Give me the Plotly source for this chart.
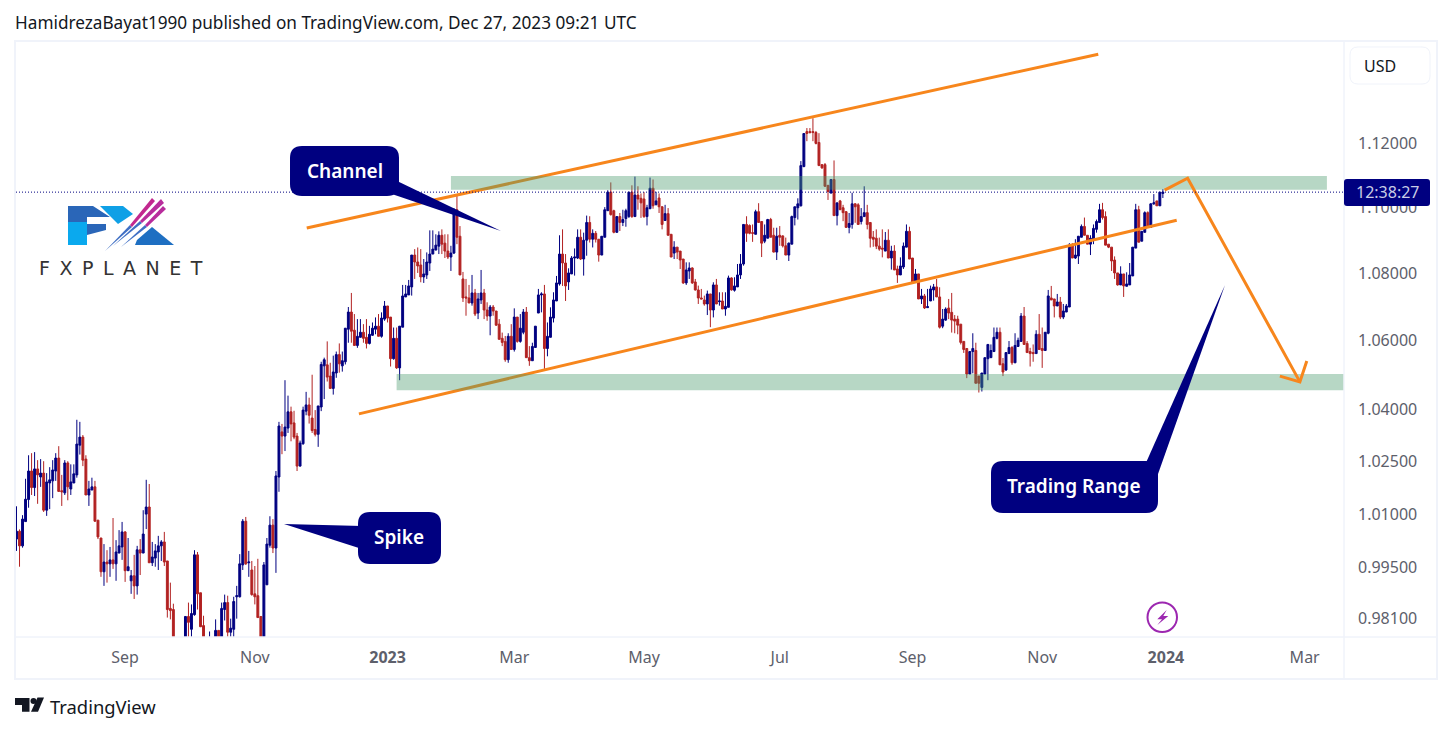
import pandas as pd
import plotly.graph_objects as go


opens = [
    1.0030, 1.0052, 1.0011, 1.0079, 1.0141, 1.0222, 1.0175, 1.0228, 1.0205, 1.0216,
    1.0111, 1.0188, 1.0194, 1.0222, 1.0259, 1.0166, 1.0160, 1.0245, 1.0171, 1.0188,
    1.0211, 1.0296, 1.0319, 1.0256, 1.0154, 1.0168, 1.0177, 1.0083, 1.0033, 0.9939,
    0.9966, 0.9961, 0.9972, 0.9961, 0.9991, 1.0008, 1.0050, 0.9942, 0.9914, 0.9928,
    0.9900, 1.0000, 0.9991, 1.0100, 1.0120, 0.9964, 0.9977, 0.9994, 1.0011, 1.0022,
    0.9969, 0.9838, 0.9835, 0.9745, 0.9700, 0.9730, 0.9720, 0.9816, 0.9781, 0.9821,
    0.9986, 0.9881, 0.9791, 0.9740, 0.9700, 0.9750, 0.9720, 0.9778, 0.9740, 0.9835,
    0.9854, 0.9773, 0.9781, 0.9870, 0.9870, 0.9958, 1.0080, 0.9964, 0.9944, 0.9878,
    0.9873, 0.9816, 0.9700, 0.9903, 1.0013, 1.0069, 1.0005, 1.0205, 1.0334, 1.0322,
    1.0345, 1.0392, 1.0360, 1.0322, 1.0236, 1.0300, 1.0394, 1.0412, 1.0374, 1.0341,
    1.0327, 1.0406, 1.0526, 1.0529, 1.0496, 1.0460, 1.0505, 1.0559, 1.0526, 1.0538,
    1.0634, 1.0685, 1.0631, 1.0586, 1.0610, 1.0625, 1.0610, 1.0592, 1.0616, 1.0634,
    1.0643, 1.0613, 1.0664, 1.0703, 1.0670, 1.0547, 1.0607, 1.0520, 1.0640, 1.0730,
    1.0736, 1.0760, 1.0856, 1.0835, 1.0826, 1.0790, 1.0796, 1.0832, 1.0859, 1.0871,
    1.0883, 1.0916, 1.0892, 1.0868, 1.0850, 1.0862, 1.0994, 1.0913, 1.0784, 1.0730,
    1.0727, 1.0712, 1.0742, 1.0682, 1.0721, 1.0742, 1.0691, 1.0673, 1.0700, 1.0688,
    1.0649, 1.0607, 1.0598, 1.0544, 1.0613, 1.0574, 1.0670, 1.0598, 1.0625, 1.0685,
    1.0550, 1.0541, 1.0580, 1.0682, 1.0736, 1.0739, 1.0577, 1.0610, 1.0667, 1.0718,
    1.0769, 1.0859, 1.0832, 1.0775, 1.0799, 1.0847, 1.0847, 1.0910, 1.0844, 1.0901,
    1.0955, 1.0904, 1.0922, 1.0904, 1.0856, 1.0910, 1.0991, 1.1048, 1.0991, 1.0925,
    1.0973, 1.0955, 1.0967, 1.0973, 1.1048, 1.0973, 1.1039, 1.1029, 1.1027, 1.0973,
    1.0997, 1.1060, 1.1009, 1.1030, 1.1003, 1.0961, 1.0982, 1.0919, 1.0862, 1.0880,
    1.0868, 1.0844, 1.0772, 1.0808, 1.0817, 1.0775, 1.0751, 1.0727, 1.0721, 1.0709,
    1.0739, 1.0691, 1.0766, 1.0716, 1.0718, 1.0694, 1.0699, 1.0787, 1.0750, 1.0760,
    1.0796, 1.0829, 1.0949, 1.0946, 1.0924, 1.0919, 1.0988, 1.0958, 1.0898, 1.0907,
    1.0964, 1.0916, 1.0865, 1.0916, 1.0914, 1.0884, 1.0856, 1.0889, 1.0970, 1.1000,
    1.1006, 1.1127, 1.1236, 1.1236, 1.1236, 1.1233, 1.1202, 1.1133, 1.1133, 1.1069,
    1.1045, 1.1087, 1.0976, 1.1021, 1.1000, 1.0988, 1.0940, 1.0949, 1.1012, 1.1009,
    1.0958, 1.0973, 1.0985, 1.0955, 1.0910, 1.0907, 1.0883, 1.0877, 1.0868, 1.0901,
    1.0847, 1.0868, 1.0814, 1.0796, 1.0820, 1.0880, 1.0928, 1.0847, 1.0778, 1.0799,
    1.0724, 1.0733, 1.0698, 1.0718, 1.0751, 1.0760, 1.0730, 1.0643, 1.0661, 1.0697,
    1.0684, 1.0664, 1.0664, 1.0649, 1.0598, 1.0577, 1.0502, 1.0568, 1.0571, 1.0496,
    1.0463, 1.0502, 1.0547, 1.0550, 1.0568, 1.0607, 1.0625, 1.0532, 1.0514, 1.0562,
    1.0580, 1.0535, 1.0583, 1.0598, 1.0673, 1.0592, 1.0568, 1.0565, 1.0562, 1.0619,
    1.0577, 1.0571, 1.0622, 1.0727, 1.0724, 1.0703, 1.0715, 1.0670, 1.0685, 1.0700,
    1.0886, 1.0847, 1.0853, 1.0910, 1.0943, 1.0916, 1.0889, 1.0904, 1.0934, 1.0955,
    1.0994, 1.0973, 1.0889, 1.0880, 1.0841, 1.0802, 1.0766, 1.0799, 1.0762, 1.0766,
    1.0793, 1.0877, 1.0994, 1.0898, 1.0925, 1.0985, 1.0940, 1.1012, 1.1021, 1.1006, 1.1044,
]
highs = [
    1.0122, 1.0057, 1.0097, 1.0200, 1.0267, 1.0273, 1.0276, 1.0253, 1.0256, 1.0250,
    1.0216, 1.0233, 1.0253, 1.0273, 1.0293, 1.0211, 1.0253, 1.0250, 1.0241, 1.0241,
    1.0369, 1.0363, 1.0325, 1.0267, 1.0194, 1.0203, 1.0194, 1.0083, 1.0033, 1.0016,
    0.9999, 1.0008, 1.0089, 1.0027, 1.0055, 1.0078, 1.0052, 1.0033, 0.9944, 0.9986,
    1.0011, 1.0030, 1.0111, 1.0197, 1.0185, 1.0022, 1.0016, 1.0039, 1.0027, 1.0050,
    0.9969, 0.9909, 0.9851, 0.9755, 0.9750, 0.9755, 0.9816, 0.9854, 0.9849, 0.9999,
    0.9994, 0.9881, 0.9818, 0.9755, 0.9775, 0.9758, 0.9808, 0.9778, 0.9854, 0.9876,
    0.9873, 0.9810, 0.9870, 0.9900, 0.9988, 1.0086, 1.0092, 0.9997, 0.9969, 0.9955,
    0.9975, 0.9816, 0.9966, 1.0033, 1.0094, 1.0086, 1.0222, 1.0363, 1.0357, 1.0484,
    1.0439, 1.0407, 1.0395, 1.0331, 1.0309, 1.0407, 1.0450, 1.0433, 1.0500, 1.0397,
    1.0409, 1.0538, 1.0550, 1.0598, 1.0535, 1.0556, 1.0568, 1.0592, 1.0568, 1.0637,
    1.0700, 1.0742, 1.0679, 1.0664, 1.0664, 1.0649, 1.0664, 1.0644, 1.0654, 1.0669,
    1.0679, 1.0684, 1.0718, 1.0703, 1.0670, 1.0639, 1.0639, 1.0643, 1.0766, 1.0766,
    1.0781, 1.0856, 1.0874, 1.0879, 1.0874, 1.0844, 1.0864, 1.0931, 1.0931, 1.0919,
    1.0928, 1.0934, 1.0919, 1.0919, 1.0884, 1.0999, 1.1036, 1.0944, 1.0805, 1.0784,
    1.0766, 1.0796, 1.0754, 1.0742, 1.0811, 1.0754, 1.0714, 1.0706, 1.0706, 1.0688,
    1.0664, 1.0624, 1.0614, 1.0622, 1.0649, 1.0696, 1.0670, 1.0679, 1.0694, 1.0700,
    1.0584, 1.0594, 1.0643, 1.0754, 1.0744, 1.0766, 1.0654, 1.0699, 1.0744, 1.0793,
    1.0916, 1.0934, 1.0859, 1.0816, 1.0853, 1.0876, 1.0934, 1.0934, 1.0924, 1.0976,
    1.0974, 1.0934, 1.0929, 1.0904, 1.0913, 1.1002, 1.1054, 1.1078, 1.0994, 1.0974,
    1.0984, 1.0994, 1.0997, 1.1048, 1.1069, 1.1096, 1.1066, 1.1044, 1.1048, 1.1009,
    1.1093, 1.1087, 1.1049, 1.1044, 1.1004, 1.1009, 1.0999, 1.0919, 1.0898, 1.0880,
    1.0868, 1.0844, 1.0834, 1.0834, 1.0819, 1.0784, 1.0764, 1.0754, 1.0734, 1.0749,
    1.0739, 1.0774, 1.0784, 1.0744, 1.0744, 1.0744, 1.0794, 1.0789, 1.0789, 1.0829,
    1.0859, 1.0949, 1.0974, 1.0949, 1.0949, 1.0994, 1.1014, 1.0959, 1.0949, 1.0966,
    1.0969, 1.0939, 1.0939, 1.0944, 1.0916, 1.0909, 1.0894, 1.0976, 1.1003, 1.1029,
    1.1144, 1.1230, 1.1247, 1.1247, 1.1278, 1.1238, 1.1231, 1.1133, 1.1138, 1.1069,
    1.1087, 1.1146, 1.1015, 1.1024, 1.1009, 1.0989, 1.0984, 1.1046, 1.1014, 1.1014,
    1.0999, 1.1066, 1.1009, 1.0955, 1.0929, 1.0934, 1.0909, 1.0934, 1.0926, 1.0934,
    1.0884, 1.0886, 1.0824, 1.0849, 1.0894, 1.0949, 1.0942, 1.0847, 1.0814, 1.0799,
    1.0754, 1.0739, 1.0754, 1.0764, 1.0769, 1.0784, 1.0759, 1.0694, 1.0699, 1.0724,
    1.0742, 1.0676, 1.0674, 1.0649, 1.0598, 1.0577, 1.0568, 1.0622, 1.0594, 1.0496,
    1.0505, 1.0550, 1.0589, 1.0589, 1.0639, 1.0639, 1.0639, 1.0549, 1.0565, 1.0599,
    1.0584, 1.0622, 1.0609, 1.0682, 1.0700, 1.0599, 1.0579, 1.0589, 1.0631, 1.0679,
    1.0639, 1.0625, 1.0751, 1.0763, 1.0724, 1.0739, 1.0730, 1.0709, 1.0709, 1.0892,
    1.0892, 1.0904, 1.0914, 1.0949, 1.0970, 1.0916, 1.0916, 1.0949, 1.0964, 1.1012,
    1.1015, 1.0989, 1.0889, 1.0880, 1.0852, 1.0802, 1.0822, 1.0799, 1.0804, 1.0832,
    1.0880, 1.1012, 1.1006, 1.0928, 1.0989, 1.0989, 1.1014, 1.1042, 1.1021, 1.1048, 1.1057,
]
lows = [
    0.9997, 0.9953, 1.0006, 1.0079, 1.0118, 1.0154, 1.0151, 1.0129, 1.0177, 1.0106,
    1.0095, 1.0114, 1.0145, 1.0194, 1.0164, 1.0123, 1.0154, 1.0139, 1.0154, 1.0188,
    1.0203, 1.0269, 1.0236, 1.0154, 1.0123, 1.0168, 1.0079, 1.0030, 0.9925, 0.9900,
    0.9909, 0.9925, 0.9947, 0.9914, 0.9991, 0.9972, 0.9911, 0.9942, 0.9878, 0.9864,
    0.9876, 0.9930, 0.9991, 1.0058, 0.9964, 0.9955, 0.9953, 0.9944, 0.9969, 0.9955,
    0.9813, 0.9808, 0.9730, 0.9670, 0.9660, 0.9670, 0.9700, 0.9740, 0.9750, 0.9818,
    0.9835, 0.9787, 0.9720, 0.9660, 0.9680, 0.9680, 0.9700, 0.9700, 0.9720, 0.9805,
    0.9750, 0.9750, 0.9750, 0.9810, 0.9868, 0.9944, 0.9958, 0.9925, 0.9873, 0.9849,
    0.9813, 0.9680, 0.9680, 0.9903, 1.0006, 0.9991, 0.9936, 1.0163, 1.0270, 1.0279,
    1.0331, 1.0307, 1.0313, 1.0222, 1.0235, 1.0297, 1.0382, 1.0358, 1.0331, 1.0321,
    1.0291, 1.0394, 1.0429, 1.0480, 1.0460, 1.0442, 1.0491, 1.0506, 1.0509, 1.0530,
    1.0594, 1.0594, 1.0586, 1.0579, 1.0610, 1.0594, 1.0577, 1.0589, 1.0614, 1.0619,
    1.0613, 1.0609, 1.0659, 1.0654, 1.0524, 1.0544, 1.0517, 1.0484, 1.0640, 1.0730,
    1.0736, 1.0734, 1.0784, 1.0802, 1.0774, 1.0772, 1.0784, 1.0808, 1.0859, 1.0871,
    1.0859, 1.0859, 1.0847, 1.0844, 1.0808, 1.0859, 1.0889, 1.0796, 1.0715, 1.0674,
    1.0712, 1.0704, 1.0673, 1.0664, 1.0709, 1.0664, 1.0659, 1.0616, 1.0674, 1.0644,
    1.0604, 1.0584, 1.0538, 1.0535, 1.0574, 1.0568, 1.0594, 1.0594, 1.0619, 1.0550,
    1.0526, 1.0541, 1.0580, 1.0682, 1.0684, 1.0517, 1.0554, 1.0610, 1.0654, 1.0718,
    1.0764, 1.0763, 1.0718, 1.0751, 1.0799, 1.0794, 1.0844, 1.0841, 1.0794, 1.0854,
    1.0894, 1.0879, 1.0894, 1.0836, 1.0856, 1.0910, 1.0991, 1.0976, 1.0922, 1.0924,
    1.0929, 1.0944, 1.0942, 1.0969, 1.0969, 1.0973, 1.0994, 1.0969, 1.0969, 1.0946,
    1.0997, 1.0997, 1.1009, 1.0984, 1.0934, 1.0961, 1.0916, 1.0850, 1.0844, 1.0844,
    1.0814, 1.0769, 1.0766, 1.0784, 1.0769, 1.0749, 1.0709, 1.0724, 1.0704, 1.0676,
    1.0640, 1.0669, 1.0709, 1.0704, 1.0694, 1.0674, 1.0699, 1.0749, 1.0746, 1.0760,
    1.0784, 1.0824, 1.0896, 1.0919, 1.0896, 1.0919, 1.0954, 1.0850, 1.0892, 1.0907,
    1.0910, 1.0864, 1.0841, 1.0884, 1.0879, 1.0856, 1.0838, 1.0889, 1.0946, 1.0964,
    1.1004, 1.1125, 1.1206, 1.1230, 1.1206, 1.1196, 1.1130, 1.1120, 1.1065, 1.1024,
    1.1045, 1.0976, 1.0946, 1.0994, 1.0959, 1.0940, 1.0922, 1.0936, 1.0954, 1.0949,
    1.0949, 1.0973, 1.0934, 1.0879, 1.0881, 1.0874, 1.0869, 1.0849, 1.0868, 1.0847,
    1.0812, 1.0811, 1.0772, 1.0796, 1.0814, 1.0880, 1.0844, 1.0775, 1.0774, 1.0724,
    1.0709, 1.0694, 1.0698, 1.0718, 1.0719, 1.0730, 1.0636, 1.0637, 1.0659, 1.0664,
    1.0624, 1.0622, 1.0619, 1.0589, 1.0564, 1.0490, 1.0502, 1.0504, 1.0475, 1.0448,
    1.0451, 1.0502, 1.0484, 1.0550, 1.0568, 1.0604, 1.0529, 1.0496, 1.0511, 1.0562,
    1.0529, 1.0534, 1.0583, 1.0598, 1.0589, 1.0565, 1.0524, 1.0538, 1.0562, 1.0574,
    1.0520, 1.0571, 1.0619, 1.0721, 1.0669, 1.0703, 1.0664, 1.0664, 1.0685, 1.0700,
    1.0847, 1.0844, 1.0829, 1.0910, 1.0916, 1.0889, 1.0856, 1.0889, 1.0924, 1.0955,
    1.0964, 1.0886, 1.0877, 1.0808, 1.0784, 1.0764, 1.0766, 1.0730, 1.0762, 1.0766,
    1.0793, 1.0877, 1.0895, 1.0898, 1.0925, 1.0943, 1.0940, 1.1009, 1.1006, 1.1006, 1.1030,
]
closes = [
    1.0052, 1.0011, 1.0086, 1.0142, 1.0222, 1.0175, 1.0228, 1.0211, 1.0216, 1.0111,
    1.0191, 1.0197, 1.0225, 1.0259, 1.0164, 1.0163, 1.0245, 1.0177, 1.0191, 1.0214,
    1.0299, 1.0319, 1.0253, 1.0154, 1.0171, 1.0177, 1.0080, 1.0036, 0.9939, 0.9966,
    0.9961, 0.9972, 0.9961, 0.9994, 1.0011, 1.0050, 0.9942, 0.9953, 0.9928, 0.9900,
    1.0000, 0.9991, 1.0044, 1.0120, 0.9964, 0.9980, 0.9997, 1.0011, 1.0022, 0.9966,
    0.9835, 0.9832, 0.9745, 0.9700, 0.9730, 0.9690, 0.9816, 0.9800, 0.9824, 0.9986,
    0.9878, 0.9788, 0.9740, 0.9700, 0.9750, 0.9710, 0.9778, 0.9720, 0.9838, 0.9854,
    0.9773, 0.9784, 0.9857, 0.9873, 0.9961, 1.0080, 0.9961, 0.9966, 0.9876, 0.9870,
    0.9813, 0.9700, 0.9958, 1.0016, 1.0069, 1.0005, 1.0208, 1.0351, 1.0322, 1.0348,
    1.0392, 1.0357, 1.0319, 1.0236, 1.0302, 1.0397, 1.0412, 1.0382, 1.0338, 1.0327,
    1.0409, 1.0530, 1.0544, 1.0493, 1.0460, 1.0508, 1.0559, 1.0532, 1.0541, 1.0637,
    1.0685, 1.0628, 1.0586, 1.0613, 1.0625, 1.0607, 1.0592, 1.0619, 1.0637, 1.0643,
    1.0613, 1.0667, 1.0703, 1.0667, 1.0547, 1.0607, 1.0520, 1.0643, 1.0733, 1.0739,
    1.0763, 1.0856, 1.0835, 1.0823, 1.0790, 1.0799, 1.0835, 1.0859, 1.0874, 1.0886,
    1.0916, 1.0889, 1.0868, 1.0850, 1.0862, 1.0994, 1.0910, 1.0796, 1.0727, 1.0727,
    1.0712, 1.0742, 1.0679, 1.0724, 1.0742, 1.0691, 1.0673, 1.0700, 1.0688, 1.0646,
    1.0604, 1.0595, 1.0544, 1.0613, 1.0574, 1.0670, 1.0598, 1.0637, 1.0685, 1.0550,
    1.0541, 1.0583, 1.0643, 1.0736, 1.0739, 1.0577, 1.0613, 1.0670, 1.0721, 1.0772,
    1.0859, 1.0832, 1.0763, 1.0802, 1.0847, 1.0850, 1.0910, 1.0844, 1.0901, 1.0955,
    1.0904, 1.0922, 1.0904, 1.0856, 1.0913, 1.0994, 1.1048, 1.0979, 1.0925, 1.0973,
    1.0955, 1.0964, 1.0991, 1.1048, 1.0973, 1.1039, 1.1027, 1.1015, 1.0973, 1.1000,
    1.1060, 1.1006, 1.1021, 1.1003, 1.0949, 1.0982, 1.0916, 1.0850, 1.0880, 1.0865,
    1.0841, 1.0772, 1.0811, 1.0817, 1.0772, 1.0751, 1.0727, 1.0724, 1.0709, 1.0739,
    1.0691, 1.0766, 1.0709, 1.0718, 1.0694, 1.0702, 1.0787, 1.0751, 1.0763, 1.0796,
    1.0829, 1.0949, 1.0922, 1.0922, 1.0922, 1.0988, 1.0955, 1.0892, 1.0916, 1.0964,
    1.0910, 1.0865, 1.0913, 1.0910, 1.0884, 1.0856, 1.0892, 1.0973, 1.1003, 1.1012,
    1.1130, 1.1230, 1.1230, 1.1233, 1.1233, 1.1199, 1.1130, 1.1123, 1.1066, 1.1050,
    1.1087, 1.0976, 1.1015, 1.0994, 1.0985, 1.0940, 1.0952, 1.1012, 1.1003, 1.0949,
    1.0973, 1.0985, 1.0949, 1.0907, 1.0904, 1.0883, 1.0874, 1.0874, 1.0901, 1.0847,
    1.0868, 1.0811, 1.0796, 1.0823, 1.0883, 1.0928, 1.0844, 1.0775, 1.0799, 1.0724,
    1.0733, 1.0697, 1.0701, 1.0754, 1.0760, 1.0730, 1.0640, 1.0664, 1.0694, 1.0682,
    1.0661, 1.0658, 1.0646, 1.0595, 1.0574, 1.0502, 1.0568, 1.0577, 1.0475, 1.0475,
    1.0505, 1.0550, 1.0589, 1.0571, 1.0610, 1.0625, 1.0529, 1.0508, 1.0565, 1.0580,
    1.0535, 1.0586, 1.0601, 1.0673, 1.0589, 1.0565, 1.0562, 1.0562, 1.0619, 1.0574,
    1.0571, 1.0625, 1.0733, 1.0721, 1.0703, 1.0715, 1.0670, 1.0688, 1.0703, 1.0886,
    1.0847, 1.0856, 1.0913, 1.0943, 1.0916, 1.0889, 1.0907, 1.0937, 1.0958, 1.0994,
    1.0970, 1.0886, 1.0880, 1.0838, 1.0802, 1.0766, 1.0799, 1.0763, 1.0769, 1.0796,
    1.0880, 1.0994, 1.0895, 1.0928, 1.0985, 1.0943, 1.1012, 1.1015, 1.1006, 1.1048, 1.1048,
]

price_ticks = [1.12, 1.10, 1.08, 1.06, 1.04, 1.025, 1.01, 0.995, 0.981]
price_labels = ["1.12000", "1.10000", "1.08000", "1.06000", "1.04000", "1.02500", "1.01000", "0.99500", "0.98100"]
date_ticks = ["2022-09-01 12:00", "2022-11-01 12:00", "2023-01-02 12:00", "2023-03-01 12:00", "2023-05-01 12:00",
        "2023-07-03 12:00", "2023-09-01 12:00", "2023-11-01 12:00", "2023-12-28 12:00", "2024-03-01 12:00"]
date_labels = ["Sep", "Nov", "<b>2023</b>", "Mar", "May", "Jul", "Sep", "Nov", "<b>2024</b>", "Mar"]

upper_channel_x = ["2022-11-24 17:00", "2023-11-28 02:00"]
upper_channel_y = [1.0938, 1.1481]
lower_channel_x = ["2022-12-20 00:00", "2024-01-03 02:00"]
lower_channel_y = [1.0386, 1.0962]
forecast_x = ["2023-12-28 02:00", "2024-01-08 17:00", "2024-02-28 22:00"]
forecast_y = [1.1054, 1.1091, 1.0479]
arrow_x = ["2024-02-20 07:00", "2024-02-28 22:00", "2024-03-04 05:00"]
arrow_y = [1.0496, 1.0479, 1.0540]

range_start = "2022-07-13 08:00"
range_end = "2024-03-20 13:00"
upper_zone_x = ["2023-01-31 12:00", "2024-03-12 21:00", "2024-03-12 21:00", "2023-01-31 12:00", "2023-01-31 12:00"]
upper_zone_y = [1.1055, 1.1055, 1.1098, 1.1098, 1.1055]
lower_zone_x = ["2023-01-05 12:00", range_end, range_end, "2023-01-05 12:00", "2023-01-05 12:00"]
lower_zone_y = [1.0455, 1.0455, 1.0502, 1.0502, 1.0455]

NAVY = "#000080"
ORANGE = "#F7861C"
BORDER = "#F0F3FA"
FONT = "Noto Sans"


def paper_x(pixel):
    """
    Description

    Input:
        pixel:

    Returns:

    """
    return (pixel - 16) / 1328


def paper_y(pixel):
    """
    Description

    Input:
        pixel:

    Returns:

    """
    return (637 - pixel) / 595


def polygon(points):
    """
    Description

    Input:
        points:

    Returns:

    """
    steps = ["%.5f,%.5f" % (paper_x(x), paper_y(y)) for x, y in points]

    return "M" + " L".join(steps) + " Z"


def rounded_box(left, top, right, bottom, radius):
    """
    Description

    Input:
        left:
        top:
        right:
        bottom:
        radius:

    Returns:

    """
    corners = [
        ("M", left + radius, top), ("L", right - radius, top),
        ("Q", right, top), ("", right, top + radius), ("L", right, bottom - radius),
        ("Q", right, bottom), ("", right - radius, bottom), ("L", left + radius, bottom),
        ("Q", left, bottom), ("", left, bottom - radius), ("L", left, top + radius),
        ("Q", left, top), ("", left + radius, top)
]
    path = " ".join("%s%.5f,%.5f" % (c, paper_x(x), paper_y(y)) for c, x, y in corners)

    return path + " Z"


def add_paper_path(fig, path, color, line_color = None, line_width = 0):
    """
    Description

    Input:
        fig:
        path:
        color:
        line_color:
        line_width:

    Returns:

    """
    fig.add_shape(type = "path", path = path, xref = "paper", yref = "paper",
            fillcolor = color, line = dict(color = line_color, width = line_width),
            layer = "above"
)


def add_label(fig, text, x, y, size, color, anchor = "center", weight = 400):
    """
    Description

    Input:
        fig:
        text:
        x:
        y:
        size:
        color:
        anchor:
        weight:

    Returns:

    """
    fig.add_annotation(text = text, x = paper_x(x), y = paper_y(y), xref = "paper", yref = "paper",
            xanchor = anchor, yanchor = "middle", showarrow = False,
            font = dict(family = FONT, size = size, color = color, weight = weight)
)


def add_frame(fig):
    """
    Description

    Input:
        fig:

    Returns:

    """
    add_paper_path(fig, polygon([(15, 41), (1437, 41), (1437, 679), (15, 679)]), "rgba(0,0,0,0)", BORDER, 2)
    add_paper_path(fig, polygon([(1344, 42), (1344, 679)]), "rgba(0,0,0,0)", BORDER, 1)
    add_paper_path(fig, polygon([(15, 637), (1437, 637)]), "rgba(0,0,0,0)", BORDER, 1)

    add_paper_path(fig, rounded_box(1350, 47, 1430, 84, 8), "white", BORDER, 1)
    add_label(fig, "USD", 1380, 66, 16, "#131722")

    add_paper_path(fig, rounded_box(1344, 179, 1430, 206, 3), NAVY)
    add_label(fig, "12:38:27", 1388, 192, 16, "#C9CDE6")

    add_label(fig, "TradingView", 48, 706, 18.4, "#131722", "left")
    add_paper_path(fig, polygon([(15, 698), (29.5, 698), (29.5, 711.7), (22, 711.7), (22, 705), (15, 705)]), "#131722")
    add_paper_path(fig, polygon([(31, 711.7), (38, 711.7), (44, 697.5), (37.5, 697.5)]), "#131722")
    fig.add_shape(type = "circle", xref = "paper", yref = "paper", x0 = paper_x(30.5), x1 = paper_x(36.5),
            y0 = paper_y(698), y1 = paper_y(704), fillcolor = "#131722", line_width = 0, layer = "above"
)

    fig.add_shape(type = "circle", xref = "paper", yref = "paper", x0 = paper_x(1147.5), x1 = paper_x(1177),
            y0 = paper_y(602.5), y1 = paper_y(632), line = dict(color = "#9C27B0", width = 2), layer = "above"
)
    add_paper_path(fig, polygon([(1166.7, 610), (1157.3, 619.3), (1162, 619.3), (1157.3, 625), (1168.3, 616), (1163.3, 616)]), "#9C27B0")


def add_logo(fig):
    """
    Description

    Input:
        fig:

    Returns:

    """
    add_paper_path(fig, polygon([(68, 206), (93, 206), (110, 217), (87, 217), (87, 224), (106, 224), (106, 230), (87, 235), (87, 245), (68, 245)]), "#2A66B8")
    add_paper_path(fig, polygon([(68, 222), (87, 222), (87, 245), (68, 245)]), "#0AA9EE")
    add_paper_path(fig, polygon([(100, 206), (123, 206), (133, 214), (118, 224)]), "#0FA0E6")
    add_paper_path(fig, polygon([(137, 240), (152, 227), (174, 245), (135, 245)]), "#1E6FC2")
    add_paper_path(fig, polygon([(105, 251), (130, 225), (132, 227)]), "#3F6FC4")
    add_paper_path(fig, polygon([(130, 225), (152, 198), (155, 201), (132, 227)]), "#C2288F")
    add_paper_path(fig, polygon([(113, 246), (140, 221), (142, 223)]), "#3F6FC4")
    add_paper_path(fig, polygon([(140, 221), (161, 199), (164, 203), (142, 223)]), "#B82C9C")
    add_paper_path(fig, polygon([(121, 247), (145, 225), (147, 227)]), "#3F6FC4")
    add_paper_path(fig, polygon([(145, 225), (163, 206), (166, 209), (147, 227)]), "#B82C9C")
    fig.add_annotation(text = "F\u2002X\u2002P\u2002L\u2002A\u2002N\u2002E\u2002T", x = paper_x(121), y = paper_y(268),
            xref = "paper", yref = "paper", xanchor = "center", showarrow = False,
            font = dict(family = "DejaVu Sans", size = 19, color = "#333333")
)


def add_callouts(fig):
    """
    Description

    Input:
        fig:

    Returns:

    """
    add_paper_path(fig, polygon([(395, 180), (501, 231), (380, 190)]), NAVY)
    add_paper_path(fig, rounded_box(290, 146, 399, 196, 12), NAVY)
    add_label(fig, "Channel", 345, 171, 19, "white", weight = 600)

    add_paper_path(fig, polygon([(362, 526), (284, 524), (362, 549)]), NAVY)
    add_paper_path(fig, rounded_box(358, 512, 441, 564, 12), NAVY)
    add_label(fig, "Spike", 399, 537, 19, "white", weight = 600)

    add_paper_path(fig, polygon([(1145, 465), (1225, 285), (1158, 474)]), NAVY)
    add_paper_path(fig, rounded_box(991, 461, 1158, 513, 12), NAVY)
    add_label(fig, "Trading Range", 1074, 486, 19, "white", weight = 600)


def create_graph():
    """
    Description

    Returns:

    """
    title_section = "HamidrezaBayat1990 published on TradingView.com, Dec 27, 2023 09:21 UTC"

    dates = pd.bdate_range(end = "2023-12-27", periods = len(closes)) + pd.Timedelta(hours = 12)

    fig = go.Figure(go.Candlestick(x = dates, open = opens, high = highs, low = lows, close = closes,
            increasing = dict(line = dict(color = NAVY, width = 1), fillcolor = NAVY),
            decreasing = dict(line = dict(color = "#B22222", width = 1), fillcolor = "#B22222"),
            hoverinfo = "skip"
))

    for line_x, line_y in [(upper_channel_x, upper_channel_y), (lower_channel_x, lower_channel_y)]:
        fig.add_trace(go.Scatter(x = line_x, y = line_y, mode = "lines",
                line = dict(color = ORANGE, width = 3), hoverinfo = "skip"
))

    for zone_x, zone_y in [(upper_zone_x, upper_zone_y), (lower_zone_x, lower_zone_y)]:
        fig.add_trace(go.Scatter(x = zone_x, y = zone_y, mode = "lines", fill = "toself",
                fillcolor = "rgba(75,155,110,0.4)", line = dict(width = 0), hoverinfo = "skip"
))

    for line_x, line_y in [(forecast_x, forecast_y), (arrow_x, arrow_y)]:
        fig.add_trace(go.Scatter(x = line_x, y = line_y, mode = "lines",
                line = dict(color = ORANGE, width = 3), hoverinfo = "skip"
))

    fig.add_shape(type = "line", xref = "paper", yref = "y", x0 = 0, x1 = 1, y0 = closes[-1], y1 = closes[-1],
            line = dict(color = NAVY, width = 1, dash = "1px,2px"), layer = "above"
)

    add_frame(fig)
    add_logo(fig)
    add_callouts(fig)

    fig.update_xaxes(type = "date", range = [range_start, range_end],
            rangebreaks = [dict(bounds = ["sat", "mon"])], rangeslider_visible = False,
            tickmode = "array", tickvals = date_ticks, ticktext = date_labels,
            showgrid = False, zeroline = False, showline = False, ticks = "", ticklabelstandoff = 9,
            tickfont = dict(family = FONT, size = 16, color = "#5D606B")
)
    fig.update_yaxes(type = "log", range = [-0.010550, 0.061452], side = "right",
            tickmode = "array", tickvals = price_ticks, ticktext = price_labels,
            showgrid = False, zeroline = False, showline = False, ticks = "", ticklabelstandoff = 13,
            tickfont = dict(family = FONT, size = 16, color = "#5D606B")
)
    fig.update_layout(showlegend = False, font = dict(family = FONT, size = 16), width = 1452, height = 732,
            margin = dict(l = 16, r = 108, t = 42, b = 95), plot_bgcolor = "white", paper_bgcolor = "white",
            boxgap = 0.1,
            title = {"text": title_section, "y": 1 - 23 / 732, "x": 15 / 1452, "xanchor": "left", "yanchor": "middle",
                    "font": dict(family = FONT, size = 17.2, color = "#131722")}
)

    return fig


fig = create_graph()
fig.write_html("out.html", config = {"displayModeBar": False}, post_script = "document.body.style.margin = '0';")
